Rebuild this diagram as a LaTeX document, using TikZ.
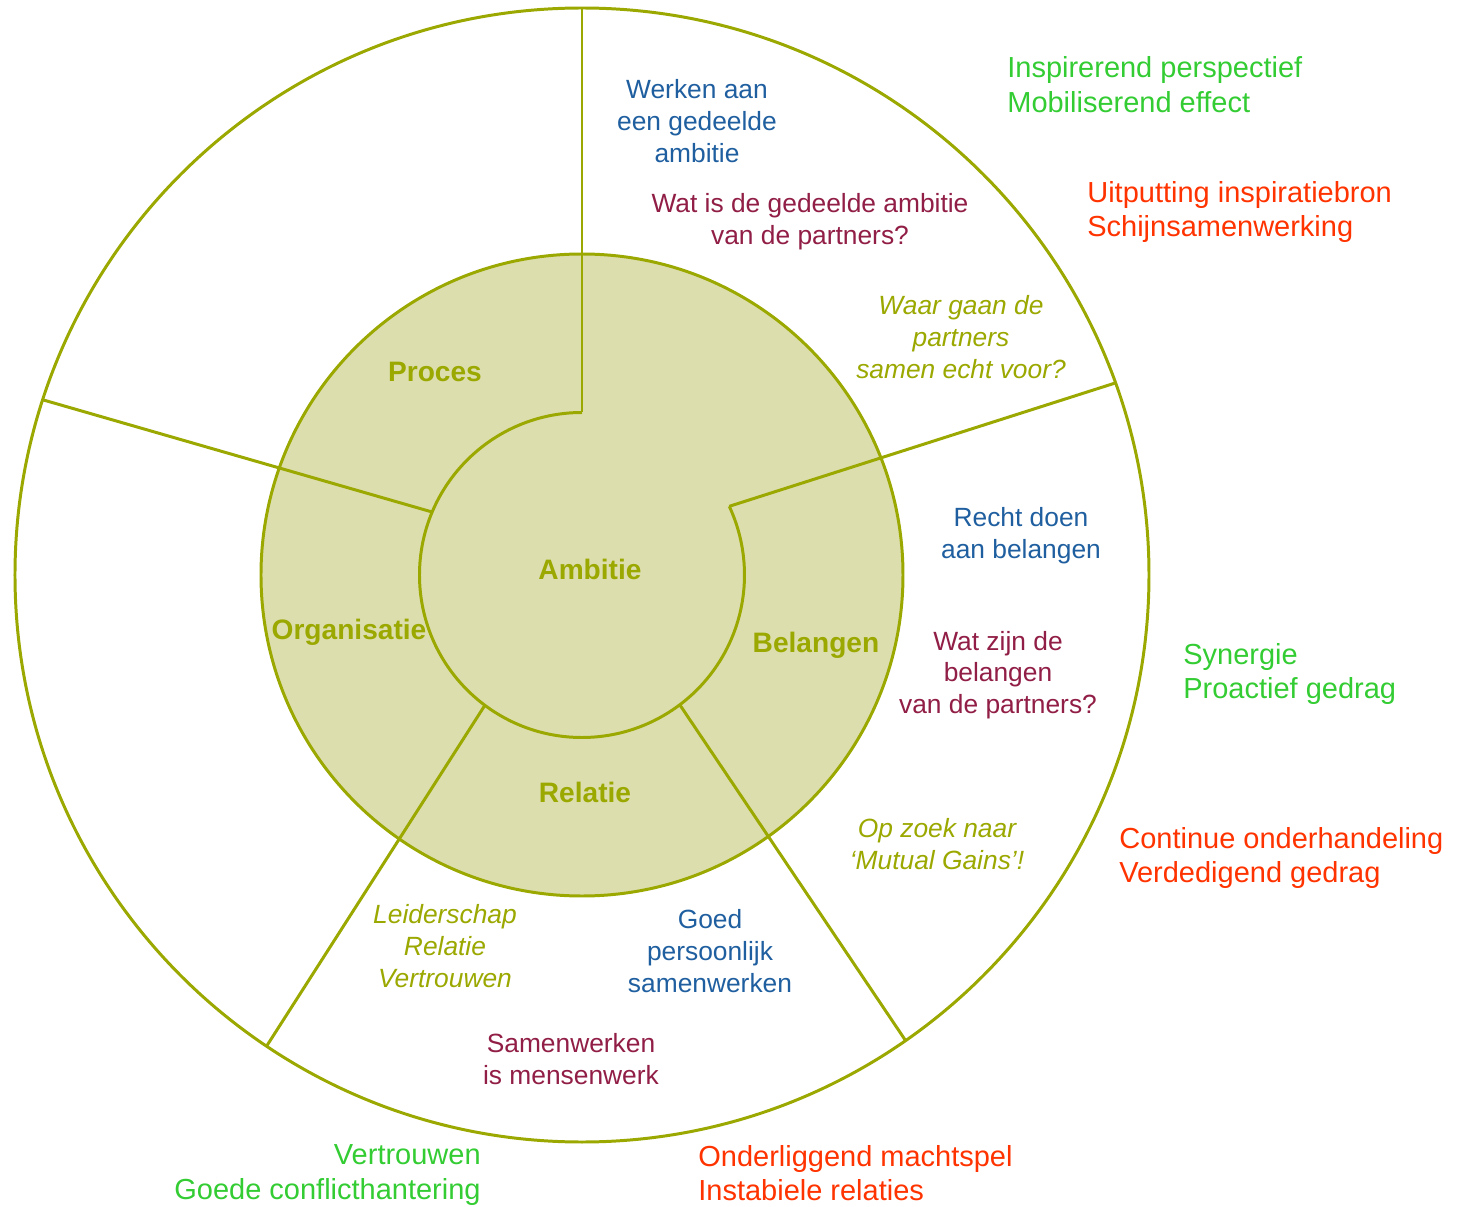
\documentclass[tikz,border=0pt]{standalone}
\usepackage{fontspec}
\setmainfont{Liberation Sans}
\usetikzlibrary{positioning}
\definecolor{olijf}{RGB}{155,168,0}
\definecolor{olijfvlak}{RGB}{220,222,174}
\definecolor{blauw}{RGB}{31,95,160}
\definecolor{paars}{RGB}{145,30,70}
\definecolor{groen}{RGB}{51,204,51}
\definecolor{rood}{RGB}{255,51,0}
\tikzset{%
  % Specifications for style of nodes:
          base/.style = {inner sep=0pt, align=center,
                         font=\fontsize{15}{18.1}\selectfont},
       thema/.style = {inner sep=0pt, text=olijf,
                         font=\fontsize{16}{18}\selectfont\bfseries},
      doel/.style = {base, text=blauw},
      vraag/.style = {base, text=paars},
      kern/.style = {base, text=olijf,
                         font=\fontsize{15}{18.1}\selectfont\itshape},
      kans/.style = {inner sep=0pt, text=groen, align=left,
                         font=\fontsize{16.5}{19.6}\selectfont},
      risico/.style = {kans, text=rood},
      ring/.style = {draw=olijf, line width=1.7pt},
}
\begin{document}
\begin{tikzpicture}[x=0.02cm, y=0.02cm]
\useasboundingbox (-582,-632) rectangle (882,575);

% rings and spokes
\draw[ring, fill=white]     (0,0) circle[radius=567];
\draw[ring, fill=olijfvlak] (0,0) circle[radius=321];
\draw[ring] (90:162.5)    -- (90:567);
\draw[ring] (25:162.5)    -- (19.8:567);
\draw[ring] (157.2:162.5) -- (162:567);
\draw[ring] (233.3:162.5) -- (236.2:567);
\draw[ring] (307:162.5)   -- (304.8:567);
\draw[ring] (90:162.5) arc[start angle=90, end angle=385, radius=162.5];

% themes
\node (Ambitie)     [thema] at (8,6)      {Ambitie};
\node (Proces)      [thema] at (-147,203) {Proces};
\node (Organisatie) [thema] at (-233,-57) {Organisatie};
\node (Belangen)    [thema] at (234,-70)  {Belangen};
\node (Relatie)     [thema] at (3,-217)   {Relatie};

% ambitie sector
\node (WA)  [doel]  at (115,454) {Werken aan\\een gedeelde\\ambitie};
\node (WG)  [vraag] at (228,353) {Wat is de gedeelde ambitie\\van de partners?};
\node (WV)  [kern]  at (379,238) {Waar gaan de\\partners\\samen echt voor?};

% belangen sector
\node (RD)  [doel]  at (439,39)  {Recht doen\\aan belangen};
\node (WB)  [vraag] at (416,-100) {Wat zijn de\\belangen\\van de partners?};
\node (OZ)  [kern]  at (355,-269) {Op zoek naar\\‘Mutual Gains’!};

% relatie sector
\node (LR)  [kern]  at (-137,-371) {Leiderschap\\Relatie\\Vertrouwen};
\node (GP)  [doel]  at (128,-376)  {Goed\\persoonlijk\\samenwerken};
\node (SM)  [vraag] at (-11,-484)  {Samenwerken\\is mensenwerk};

% outcomes
\node (IP)  [kans, anchor=west]   at (425,490.5) {Inspirerend perspectief\\Mobiliserend effect};
\node (UI)  [risico, anchor=west] at (505,363)   {Uitputting inspiratiebron\\Schijnsamenwerking};
\node (SY)  [kans, anchor=west]   at (601,-99)   {Synergie\\Proactief gedrag};
\node (CO)  [risico, anchor=west] at (537,-283)  {Continue onderhandeling\\Verdedigend gedrag};
\node (VT)  [kans, anchor=east, align=right] at (-101,-600) {Vertrouwen\\Goede conflicthantering};
\node (OM)  [risico, anchor=west] at (116,-598) {Onderliggend machtspel\\Instabiele relaties};
\end{tikzpicture}
\end{document}
